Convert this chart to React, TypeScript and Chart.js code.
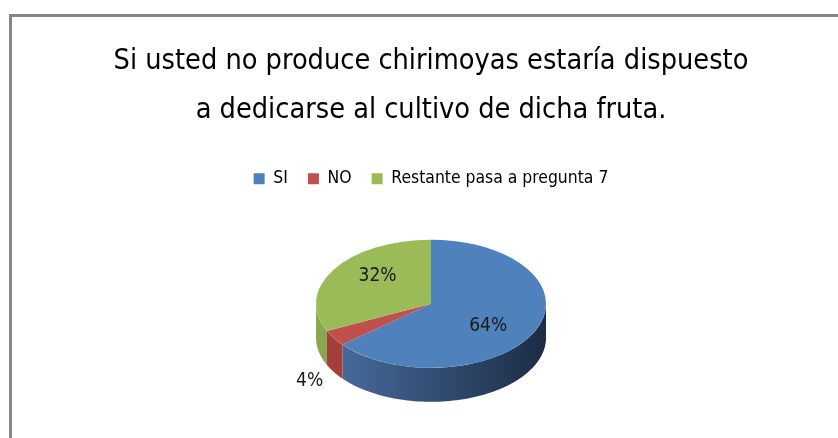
import React, { useEffect, useRef } from 'react';
import { Chart, registerables } from 'chart.js';

Chart.register(...registerables);

const titleLines = ['Si usted no produce chirimoyas estaría dispuesto', 'a dedicarse al cultivo de dicha fruta.'];
const categories = ['SI', 'NO', 'Restante pasa a pregunta 7'];
const values = [64, 4, 32];
const colors = ['#4F81BD', '#C0504D', '#9BBB59'];
const sideColors = [
  ['#4b71a4', '#1c2d45'],
  ['#a8403d', '#7a2a28'],
  ['#8aa84e', '#5f7832'],
];

const FONT = "'Liberation Sans Narrow', 'DejaVu Sans Condensed', 'Open Sans', sans-serif";
const TILT = 0.557;
const DEPTH = 34;
const LIFT = 14;

const pie3d = {
  id: 'pie3d',
  beforeDatasetsDraw(chart: any) {
    const ctx = chart.ctx;
    const meta = chart.getDatasetMeta(0);
    const first = meta.data[0];
    if (!first) return;
    const cx = first.x;
    const cy = first.y - LIFT;
    const r = first.outerRadius;
    meta.data.forEach((arc: any, i: number) => {
      const s = arc.startAngle;
      const e = arc.endAngle;
      const segs: number[][] = [];
      for (let k = -1; k <= 2; k++) {
        const lo = k * 2 * Math.PI;
        const hi = lo + Math.PI;
        const a = Math.max(s, lo);
        const b = Math.min(e, hi);
        if (b > a) segs.push([a, b]);
      }
      segs.forEach(([a, b]) => {
        const N = 80;
        ctx.beginPath();
        for (let j = 0; j <= N; j++) {
          const t = a + ((b - a) * j) / N;
          const px = cx + r * Math.cos(t);
          const py = cy + r * TILT * Math.sin(t);
          if (j === 0) ctx.moveTo(px, py);
          else ctx.lineTo(px, py);
        }
        for (let j = N; j >= 0; j--) {
          const t = a + ((b - a) * j) / N;
          ctx.lineTo(cx + r * Math.cos(t), cy + r * TILT * Math.sin(t) + DEPTH);
        }
        ctx.closePath();
        const g = ctx.createLinearGradient(cx - r, 0, cx + r, 0);
        g.addColorStop(0, sideColors[i][0]);
        g.addColorStop(1, sideColors[i][1]);
        ctx.fillStyle = g;
        ctx.fill();
      });
    });
    ctx.save();
    ctx.translate(cx, cy);
    ctx.scale(1, TILT);
    ctx.translate(-cx, -first.y);
  },
  afterDatasetsDraw(chart: any) {
    const ctx = chart.ctx;
    ctx.restore();
    const meta = chart.getDatasetMeta(0);
    const first = meta.data[0];
    if (!first) return;
    const cx = first.x;
    const cy = first.y - LIFT;
    const r = first.outerRadius;
    const data = chart.data.datasets[0].data as number[];
    const total = data.reduce((p, v) => p + v, 0);
    ctx.save();
    ctx.font = `19px ${FONT}`;
    ctx.fillStyle = '#1a1a1a';
    ctx.textAlign = 'center';
    ctx.textBaseline = 'middle';
    meta.data.forEach((arc: any, i: number) => {
      const m = (arc.startAngle + arc.endAngle) / 2;
      const pct = Math.round((data[i] / total) * 100);
      const outside = pct < 8;
      let x: number, y: number;
      if (outside) {
        x = cx + r * 1.25 * Math.cos(m);
        y = cy + r * TILT * 1.25 * Math.sin(m) + DEPTH;
      } else {
        x = cx + r * 0.55 * Math.cos(m);
        y = cy + r * TILT * 0.8 * Math.sin(m);
      }
      ctx.fillText(pct + '%', x, y);
    });
    ctx.restore();
  },
};

export default function App() {
  const ref = useRef<HTMLCanvasElement | null>(null);
  useEffect(() => {
    if (!ref.current) return;
    const chart = new Chart(ref.current, {
      type: 'pie',
      data: {
        labels: categories,
        datasets: [
          {
            data: values,
            backgroundColor: colors,
            borderWidth: 0,
            radius: 115,
            clip: false as any,
          } as any,
        ],
      },
      options: {
        responsive: false,
        animation: false,
        devicePixelRatio: 1,
        layout: { padding: { left: 24, right: 0, top: 0, bottom: 0 } },
        plugins: {
          title: {
            display: true,
            text: titleLines,
            color: '#000',
            font: { family: FONT, size: 28.6, weight: 'normal', lineHeight: 1.68 } as any,
            padding: { top: 38, bottom: 16 },
          },
          legend: {
            display: true,
            position: 'top',
            labels: {
              boxWidth: 11,
              boxHeight: 11,
              padding: 20,
              color: '#000',
              font: { family: FONT, size: 17.4 },
            },
          },
          tooltip: { enabled: false },
        },
      },
      plugins: [pie3d],
    });
    return () => chart.destroy();
  }, []);
  return (
    <div style={{ position: 'fixed', left: 0, top: 0, width: 838, height: 438, background: '#fff', overflow: 'hidden' }}>
      <div
        style={{
          position: 'absolute',
          left: 9,
          top: 14,
          width: 900,
          height: 500,
          borderLeft: '3px solid #878787',
          borderTop: '3px solid #878787',
        }}
      />
      <canvas ref={ref} width={838} height={438} style={{ position: 'absolute', left: 0, top: 0 }} />
    </div>
  );
}
